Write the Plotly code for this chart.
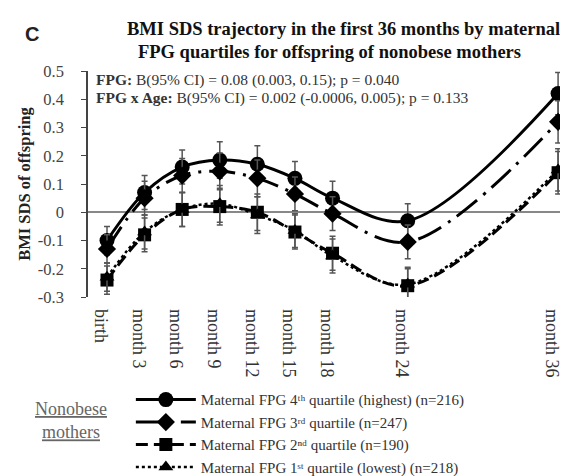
import plotly.graph_objects as go

months = [0, 3, 6, 9, 12, 15, 18, 24, 36]
tick_labels = ["birth", "month 3", "month 6", "month 9", "month 12", "month 15", "month 18", "month 24", "month 36"]

q4 = [-0.10, 0.07, 0.16, 0.185, 0.17, 0.12, 0.05, -0.03, 0.42]
q3 = [-0.13, 0.05, 0.13, 0.145, 0.12, 0.065, -0.005, -0.105, 0.32]
q2 = [-0.24, -0.08, 0.01, 0.02, 0.0, -0.07, -0.145, -0.26, 0.14]
q1 = [-0.23, -0.07, 0.01, 0.03, -0.01, -0.065, -0.155, -0.255, 0.15]
err = [0.05, 0.06, 0.06, 0.065, 0.065, 0.06, 0.06, 0.06, 0.075]

names = [
    "Maternal FPG 4ᵗʰ quartile (highest) (n=216)",
    "Maternal FPG 3ʳᵈ quartile (n=247)",
    "Maternal FPG 2ⁿᵈ quartile (n=190)",
    "Maternal FPG 1ˢᵗ quartile (lowest) (n=218)",
]
series = [q4, q3, q2, q1]
symbols = ["circle", "diamond", "square", "triangle-up"]
sizes = [15, 14, 13, 13]
dashes = ["solid", "26px,8px,3px,8px", "12px,6px", "3px,3px"]
widths = [3, 3, 3, 2.5]

SERIF = "Liberation Serif, Times New Roman, serif"

fig = go.Figure()
for ys, nm, sym, sz, ds, w in zip(series, names, symbols, sizes, dashes, widths):
    fig.add_trace(go.Scatter(
        x=months, y=ys, name=nm, mode="lines+markers",
        line=dict(color="black", width=w, dash=ds, shape="spline", smoothing=1.0),
        marker=dict(symbol=sym, size=sz, color="black"),
        error_y=dict(type="data", array=err, color="#555555", thickness=1.5, width=3),
    ))

fig.update_layout(
    width=568, height=476,
    margin=dict(l=80, r=1, t=63, b=170),
    paper_bgcolor="white", plot_bgcolor="white",
    font=dict(family=SERIF, color="black", size=14),
    showlegend=True,
    legend=dict(x=0.088, y=-0.382, xanchor="left", yanchor="top",
                font=dict(family=SERIF, size=15, color="#333333"),
                tracegroupgap=0, itemwidth=60, bgcolor="rgba(0,0,0,0)"),
    xaxis=dict(range=[-1.516, 37.35], tickmode="array", tickvals=months, ticktext=tick_labels,
               tickangle=90, showgrid=False, zeroline=False, showline=False, ticks="",
               ticklabelstandoff=11, ticklabelshift=-6,
               tickfont=dict(family=SERIF, size=18, color="#333333")),
    yaxis=dict(range=[-0.3, 0.5], tickvals=[0.5, 0.4, 0.3, 0.2, 0.1, 0, -0.1, -0.2, -0.3],
               ticktext=["0.5", "0.4", "0.3", "0.2", "0.1", "0", "-0.1", "-0.2", "-0.3"],
               showgrid=False, zeroline=True, zerolinecolor="#888888", zerolinewidth=2,
               showline=True, linecolor="#444444", linewidth=1.5, ticks="outside", ticklen=5,
               tickcolor="#444444", ticklabelstandoff=14,
               tickfont=dict(family=SERIF, size=16.5, color="#444444"),
               title=dict(text="<b>BMI SDS of offspring</b>", font=dict(family=SERIF, size=16.5, color="#222222"), standoff=3)),
)

fig.add_annotation(text="<b>C</b>", xref="paper", yref="paper", x=-0.115, y=1.165,
                   xanchor="center", yanchor="middle", showarrow=False,
                   font=dict(family="Liberation Sans, Arial, sans-serif", size=20, color="#222222"))
fig.add_annotation(text="<b>BMI SDS trajectory in the first 36 months by maternal</b>",
                   xref="paper", yref="paper", x=0.525, y=1.185, xanchor="center", yanchor="middle",
                   showarrow=False, font=dict(family=SERIF, size=18.5, color="#111111"))
fig.add_annotation(text="<b>FPG quartiles for offspring of nonobese mothers</b>",
                   xref="paper", yref="paper", x=0.496, y=1.086, xanchor="center", yanchor="middle",
                   showarrow=False, font=dict(family=SERIF, size=18.5, color="#111111"))
fig.add_annotation(text="<b>FPG:</b> B(95% CI) = 0.08 (0.003, 0.15); p = 0.040",
                   xref="paper", yref="paper", x=0.012, y=0.959, xanchor="left", yanchor="middle",
                   showarrow=False, font=dict(family=SERIF, size=15.5, color="#333333"))
fig.add_annotation(text="<b>FPG x Age:</b> B(95% CI) = 0.002 (-0.0006, 0.005); p = 0.133",
                   xref="paper", yref="paper", x=0.012, y=0.879, xanchor="left", yanchor="middle",
                   showarrow=False, font=dict(family=SERIF, size=15.5, color="#333333"))
fig.add_annotation(text="<u>Nonobese</u><br><u>mothers</u>", xref="paper", yref="paper",
                   x=-0.035, y=-0.545, xanchor="center", yanchor="middle", showarrow=False,
                   align="center", font=dict(family=SERIF, size=18, color="#666666"))

fig.write_html("out.html")
